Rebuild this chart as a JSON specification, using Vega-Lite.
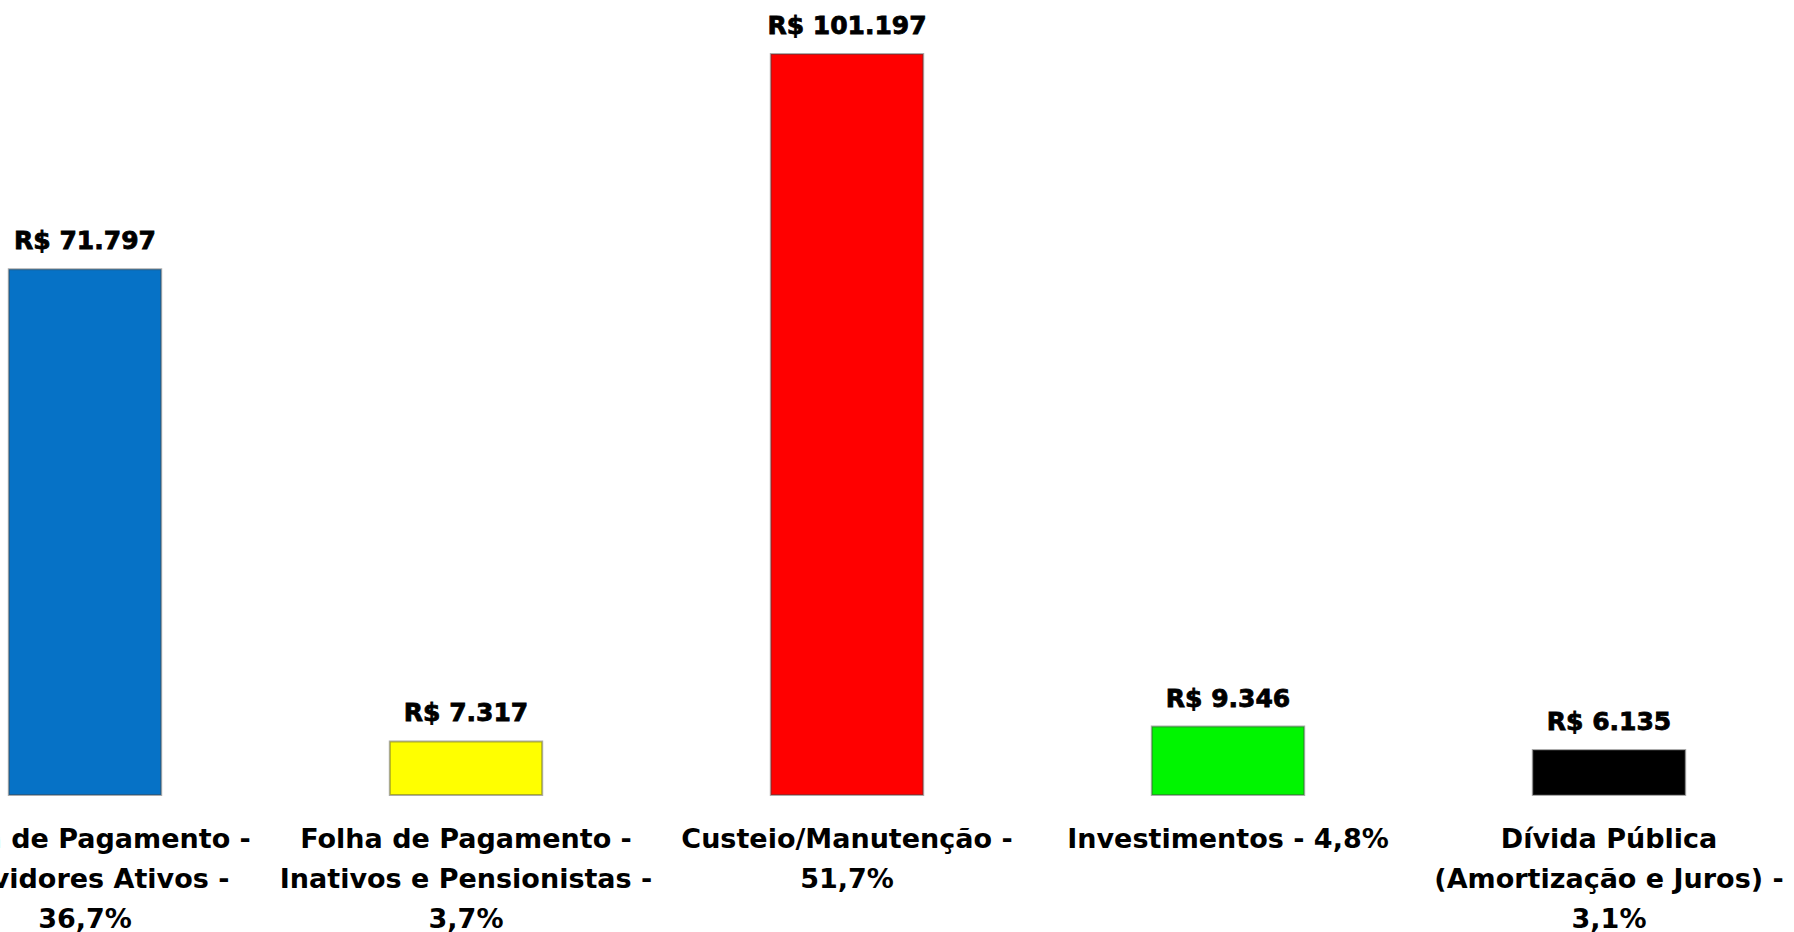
{
  "$schema": "https://vega.github.io/schema/vega-lite/v6.json",
  "width": 1794,
  "height": 741,
  "autosize": {"type": "none"},
  "padding": {"left": 0, "top": 54, "right": 0, "bottom": 137},
  "background": "white",
  "config": {"view": {"stroke": null}},
  "data": {
    "values": [
      {"cat": "Folha de Pagamento -|Servidores Ativos -|36,7%", "value": 71797, "valueLabel": "R$ 71.797"},
      {"cat": "Folha de Pagamento -|Inativos e Pensionistas -|3,7%", "value": 7317, "valueLabel": "R$ 7.317"},
      {"cat": "Custeio/Manutenção -|51,7%", "value": 101197, "valueLabel": "R$ 101.197"},
      {"cat": "Investimentos - 4,8%", "value": 9346, "valueLabel": "R$ 9.346"},
      {"cat": "Dívida Pública|(Amortização e Juros) -|3,1%", "value": 6135, "valueLabel": "R$ 6.135"}
    ]
  },
  "encoding": {
    "x": {
      "field": "cat",
      "type": "nominal",
      "sort": null,
      "scale": {"range": [-105.5, 1799.5], "paddingInner": 0.6, "paddingOuter": 0.3},
      "axis": {
        "title": null,
        "orient": "bottom",
        "domain": false,
        "ticks": false,
        "labelAngle": 0,
        "labelExpr": "split(datum.label, '|')",
        "labelFont": "DejaVu Sans",
        "labelFontWeight": "bold",
        "labelFontSize": 27,
        "labelColor": "#000000",
        "labelLineHeight": 40,
        "labelPadding": 31,
        "labelOverlap": false,
        "labelLimit": 0,
        "labelBound": false,
        "labelFlush": false,
        "labelAlign": "center",
        "labelBaseline": "top",
        "encode": {
          "labels": {
            "update": {
              "stroke": {"value": "#000000"},
              "strokeWidth": {"value": 1}
            }
          }
        }
      }
    },
    "y": {
      "field": "value",
      "type": "quantitative",
      "scale": {"domain": [0, 101197], "nice": false, "zero": true},
      "axis": null
    }
  },
  "layer": [
    {
      "mark": {"type": "bar", "strokeWidth": 2, "strokeOpacity": 0.45},
      "encoding": {
        "color": {
          "field": "cat",
          "type": "nominal",
          "sort": null,
          "scale": {"range": ["#0672C6", "#FFFF00", "#FF0000", "#00F500", "#000000"]},
          "legend": null
        },
        "stroke": {"value": "#444444"}
      }
    },
    {
      "mark": {
        "type": "text",
        "baseline": "alphabetic",
        "align": "center",
        "dy": -20,
        "font": "DejaVu Sans",
        "fontWeight": "bold",
        "fontSize": 25,
        "color": "#000000",
        "stroke": "#000000",
        "strokeWidth": 0.8
      },
      "encoding": {
        "text": {"field": "valueLabel"}
      }
    }
  ]
}
